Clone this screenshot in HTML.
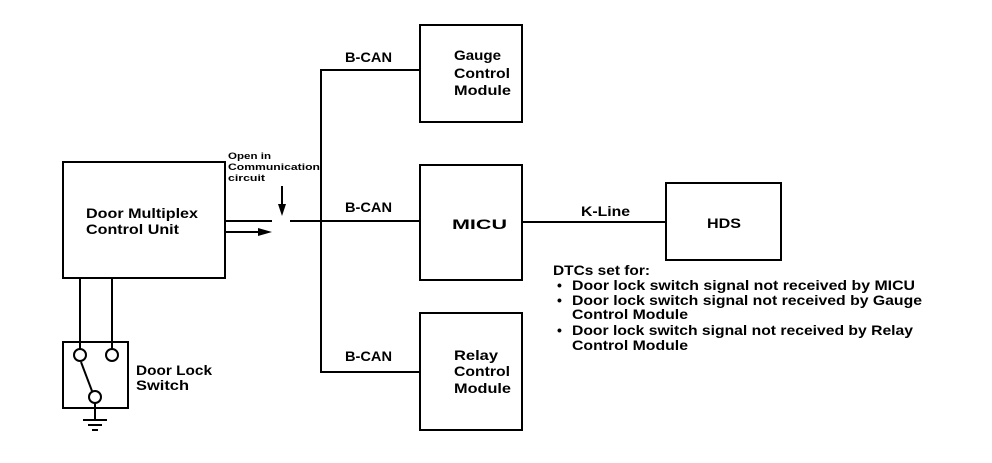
<!DOCTYPE html>
<html><head><style>
body{margin:0;background:#fff;}
svg text{font-family:"Liberation Sans",sans-serif;font-weight:bold;fill:#000;}
</style></head><body>
<svg width="992" height="458" viewBox="0 0 992 458" xmlns="http://www.w3.org/2000/svg">
<g fill="none" stroke="#000" stroke-width="2">
<rect x="63" y="162" width="162" height="116"/>
<rect x="420" y="25" width="102" height="97"/>
<rect x="420" y="165" width="102" height="115"/>
<rect x="420" y="313" width="102" height="117"/>
<rect x="666" y="183" width="115" height="77"/>
<rect x="63" y="342" width="65" height="66"/>
<line x1="226" y1="221" x2="272" y2="221"/>
<line x1="226" y1="232" x2="258" y2="232"/>
<line x1="290" y1="221" x2="420" y2="221"/>
<polyline points="420,70 321,70 321,372 420,372"/>
<line x1="522" y1="222" x2="666" y2="222"/>
<line x1="282" y1="186" x2="282" y2="205"/>
<line x1="80" y1="278" x2="80" y2="349"/>
<line x1="112" y1="278" x2="112" y2="349"/>
<circle cx="80" cy="355" r="6"/>
<circle cx="112" cy="355" r="6"/>
<circle cx="95" cy="397" r="6"/>
<line x1="81" y1="362" x2="92" y2="391"/>
<line x1="95" y1="403" x2="95" y2="420"/>
<line x1="83" y1="420" x2="107" y2="420"/>
<line x1="88" y1="425" x2="102" y2="425"/>
<line x1="92" y1="430" x2="98" y2="430"/>
</g>
<polygon points="258,228 272,232 258,236" fill="#000"/>
<polygon points="278,204 286,204 282,216" fill="#000"/>
<g font-size="14">
<text x="86" y="218" textLength="112" lengthAdjust="spacingAndGlyphs">Door Multiplex</text>
<text x="86" y="234" textLength="93" lengthAdjust="spacingAndGlyphs">Control Unit</text>
<text x="136" y="375" textLength="76" lengthAdjust="spacingAndGlyphs">Door Lock</text>
<text x="136" y="390" textLength="53" lengthAdjust="spacingAndGlyphs">Switch</text>
<text x="345" y="62" textLength="47" lengthAdjust="spacingAndGlyphs">B-CAN</text>
<text x="345" y="212" textLength="47" lengthAdjust="spacingAndGlyphs">B-CAN</text>
<text x="345" y="361" textLength="47" lengthAdjust="spacingAndGlyphs">B-CAN</text>
<text x="581" y="216" textLength="49" lengthAdjust="spacingAndGlyphs">K-Line</text>
<text x="454" y="60" textLength="47" lengthAdjust="spacingAndGlyphs">Gauge</text>
<text x="454" y="78" textLength="56" lengthAdjust="spacingAndGlyphs">Control</text>
<text x="454" y="95" textLength="57" lengthAdjust="spacingAndGlyphs">Module</text>
<text x="452" y="229" textLength="55" lengthAdjust="spacingAndGlyphs">MICU</text>
<text x="454" y="360" textLength="44" lengthAdjust="spacingAndGlyphs">Relay</text>
<text x="454" y="376" textLength="56" lengthAdjust="spacingAndGlyphs">Control</text>
<text x="454" y="393" textLength="57" lengthAdjust="spacingAndGlyphs">Module</text>
<text x="707" y="228" textLength="34" lengthAdjust="spacingAndGlyphs">HDS</text>
<text x="553" y="275" textLength="97" lengthAdjust="spacingAndGlyphs">DTCs set for:</text>
<text x="557" y="290">•</text><text x="572" y="290" textLength="343" lengthAdjust="spacingAndGlyphs">Door lock switch signal not received by MICU</text>
<text x="557" y="305">•</text><text x="572" y="305" textLength="350" lengthAdjust="spacingAndGlyphs">Door lock switch signal not received by Gauge</text>
<text x="572" y="319" textLength="116" lengthAdjust="spacingAndGlyphs">Control Module</text>
<text x="557" y="335">•</text><text x="572" y="335" textLength="341" lengthAdjust="spacingAndGlyphs">Door lock switch signal not received by Relay</text>
<text x="572" y="350" textLength="116" lengthAdjust="spacingAndGlyphs">Control Module</text>
</g>
<g font-size="9">
<text x="228" y="159" textLength="43" lengthAdjust="spacingAndGlyphs">Open in</text>
<text x="228" y="170" textLength="92" lengthAdjust="spacingAndGlyphs">Communication</text>
<text x="228" y="181" textLength="37" lengthAdjust="spacingAndGlyphs">circuit</text>
</g>
</svg>
</body></html>
